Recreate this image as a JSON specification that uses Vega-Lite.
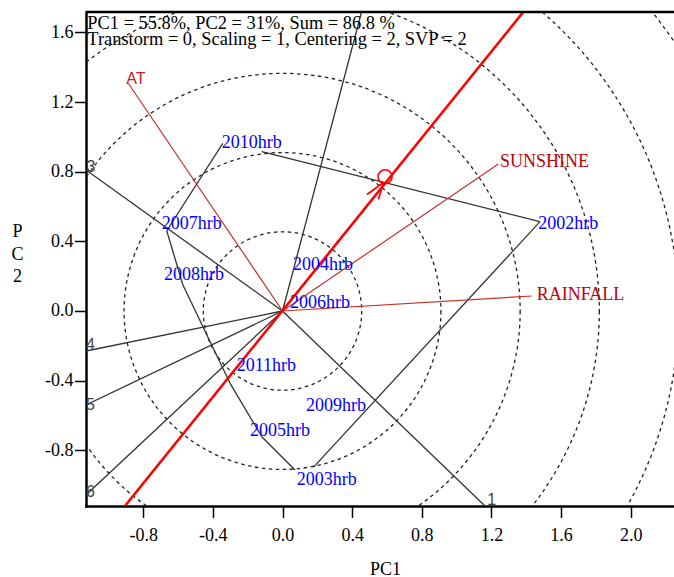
{
  "$schema": "https://vega.github.io/schema/vega-lite/v6.json",
  "width": 588,
  "height": 494,
  "autosize": {"type": "none"},
  "padding": {"left": 86, "top": 12, "right": 0, "bottom": 71},
  "background": "white",
  "config": {"view": {"stroke": null}, "font": "Liberation Serif"},
  "datasets": {
    "circles": [
      {"x": 0, "y": 0, "r": 0.455}, {"x": 0, "y": 0, "r": 0.91}, {"x": 0, "y": 0, "r": 1.365},
      {"x": 0, "y": 0, "r": 1.82}, {"x": 0, "y": 0, "r": 2.275}, {"x": 0, "y": 0, "r": 2.73}
    ],
    "rays": [
      {"ray": "1", "x": 0, "y": 0, "x2": 1.163, "y2": -1.1201},
      {"ray": "2", "x": 0, "y": 0, "x2": 0.454, "y2": 1.7174},
      {"ray": "3", "x": 0, "y": 0, "x2": -1.1287, "y2": 0.81},
      {"ray": "4", "x": 0, "y": 0, "x2": -1.1287, "y2": -0.23},
      {"ray": "5", "x": 0, "y": 0, "x2": -1.1287, "y2": -0.54},
      {"ray": "6", "x": 0, "y": 0, "x2": -1.1287, "y2": -1.057}
    ],
    "rayLabels": [
      {"label": "1", "x": 1.202, "y": -1.086},
      {"label": "3", "x": -1.1, "y": 0.825},
      {"label": "4", "x": -1.103, "y": -0.197},
      {"label": "5", "x": -1.103, "y": -0.54},
      {"label": "6", "x": -1.103, "y": -1.038}
    ],
    "polygon": [
      {"x": -0.665, "y": 0.461, "x2": -0.343, "y2": 0.963},
      {"x": -0.119, "y": 0.915, "x2": 1.479, "y2": 0.513},
      {"x": 1.479, "y": 0.513, "x2": 0.177, "y2": -0.898},
      {"x": 0.072, "y": -0.913, "x2": -0.119, "y2": -0.722},
      {"x": -0.119, "y": -0.722, "x2": -0.302, "y2": -0.414},
      {"x": -0.302, "y": -0.414, "x2": -0.572, "y2": 0.149},
      {"x": -0.572, "y": 0.149, "x2": -0.665, "y2": 0.461}
    ],
    "env": [
      {"name": "AT", "x": 0, "y": 0, "x2": -0.886, "y2": 1.308},
      {"name": "SUNSHINE", "x": 0, "y": 0, "x2": 1.24, "y2": 0.844},
      {"name": "RAINFALL", "x": 0, "y": 0, "x2": 1.431, "y2": 0.086}
    ],
    "envLabels": [
      {"name": "AT", "x": -0.897, "y": 1.333},
      {"name": "SUNSHINE", "x": 1.249, "y": 0.853},
      {"name": "RAINFALL", "x": 1.46, "y": 0.092}
    ],
    "axisLine": [
      {"x": -0.905, "y": -1.1201, "x2": 1.383, "y2": 1.7174}
    ],
    "arrow": [
      {"x": 0.58, "y": 0.738, "x2": 0.485, "y2": 0.669},
      {"x": 0.58, "y": 0.738, "x2": 0.551, "y2": 0.64}
    ],
    "marker": [{"x": 0.589, "y": 0.771}],
    "frameTop": [{"x": -1.1287, "y": 1.7174, "x2": 2.2487, "y2": 1.7174}],
    "info": [{"x": -1.121, "y": 1.618, "line1": "PC1 = 55.8%, PC2 = 31%, Sum = 86.8 %", "line2": "Transtorm = 0, Scaling = 1, Centering = 2, SVP = 2"}],
    "genotypes": [
      {"name": "2010hrb", "x": -0.349, "y": 0.963},
      {"name": "2007hrb", "x": -0.694, "y": 0.497},
      {"name": "2008hrb", "x": -0.681, "y": 0.208},
      {"name": "2004hrb", "x": 0.06, "y": 0.267},
      {"name": "2006hrb", "x": 0.043, "y": 0.044},
      {"name": "2002hrb", "x": 1.469, "y": 0.501},
      {"name": "2011hrb", "x": -0.263, "y": -0.318},
      {"name": "2009hrb", "x": 0.135, "y": -0.545},
      {"name": "2005hrb", "x": -0.187, "y": -0.689},
      {"name": "2003hrb", "x": 0.082, "y": -0.971}
    ]
  },
  "encoding": {
    "x": {
      "field": "x", "type": "quantitative",
      "scale": {"domain": [-1.1287, 2.2487], "nice": false, "zero": false},
      "axis": {
        "values": [-0.8, -0.4, 0, 0.4, 0.8, 1.2, 1.6, 2.0],
        "labelExpr": "datum.value < -0.001 ? '-' + format(-datum.value, '.1f') : format(abs(datum.value), '.1f')",
        "grid": false, "domain": true, "domainColor": "black", "domainWidth": 2.5, "domainCap": "square",
        "ticks": true, "tickColor": "black", "tickWidth": 1.5, "tickSize": 11.5,
        "labelPadding": 8.5, "labelFont": "Liberation Serif", "labelFontSize": 18, "labelColor": "black",
        "labelFlush": false, "labelOverlap": false,
        "title": "PC1", "titleFont": "Liberation Serif", "titleFontSize": 18, "titleFontWeight": "normal",
        "titleColor": "black", "titleX": 299, "titleY": 68, "titleBaseline": "alphabetic", "titleAlign": "center"
      }
    },
    "y": {
      "field": "y", "type": "quantitative",
      "scale": {"domain": [-1.1201, 1.7174], "nice": false, "zero": false},
      "axis": {
        "values": [-0.8, -0.4, 0, 0.4, 0.8, 1.2, 1.6],
        "labelExpr": "datum.value < -0.001 ? '-' + format(-datum.value, '.1f') : format(abs(datum.value), '.1f')",
        "grid": false, "domain": true, "domainColor": "black", "domainWidth": 2.5, "domainCap": "square",
        "ticks": true, "tickColor": "black", "tickWidth": 1.5, "tickSize": 11.5,
        "labelPadding": 1.5, "labelFont": "Liberation Serif", "labelFontSize": 18, "labelColor": "black",
        "labelFlush": false, "labelOverlap": false,
        "title": ["P", "C", "2"], "titleFont": "Liberation Serif", "titleFontSize": 18, "titleFontWeight": "normal",
        "titleColor": "black", "titleAngle": 0, "titleX": -69, "titleY": 210.7, "titleBaseline": "top",
        "titleAlign": "center", "titleLineHeight": 22.5
      }
    }
  },
  "layer": [
    {
      "data": {"name": "circles"},
      "mark": {"type": "point", "shape": "circle", "filled": false, "stroke": "#222", "strokeWidth": 1.3, "strokeDash": [3.5, 3.5], "opacity": 1, "clip": true},
      "encoding": {
        "size": {"field": "r", "type": "quantitative", "scale": {"type": "pow", "exponent": 2, "domain": [0, 1], "range": [0, 121243]}, "legend": null}
      }
    },
    {
      "data": {"name": "rays"},
      "mark": {"type": "rule", "color": "#333", "strokeWidth": 1.3, "clip": true},
      "encoding": {"x2": {"field": "x2"}, "y2": {"field": "y2"}}
    },
    {
      "data": {"name": "polygon"},
      "mark": {"type": "rule", "color": "#333", "strokeWidth": 1.3, "clip": true},
      "encoding": {"x2": {"field": "x2"}, "y2": {"field": "y2"}}
    },
    {
      "data": {"name": "env"},
      "mark": {"type": "rule", "color": "#c8302c", "strokeWidth": 1.2, "clip": true},
      "encoding": {"x2": {"field": "x2"}, "y2": {"field": "y2"}}
    },
    {
      "data": {"name": "axisLine"},
      "mark": {"type": "rule", "color": "#ff0000", "strokeWidth": 2.6, "clip": true},
      "encoding": {"x2": {"field": "x2"}, "y2": {"field": "y2"}}
    },
    {
      "data": {"name": "arrow"},
      "mark": {"type": "rule", "color": "#ff0000", "strokeWidth": 1.7, "clip": true},
      "encoding": {"x2": {"field": "x2"}, "y2": {"field": "y2"}}
    },
    {
      "data": {"name": "marker"},
      "mark": {"type": "point", "shape": "circle", "filled": false, "stroke": "#ff0000", "strokeWidth": 1.6, "size": 196, "opacity": 1, "clip": true}
    },
    {
      "data": {"name": "frameTop"},
      "mark": {"type": "rule", "color": "black", "strokeWidth": 2.5, "clip": false},
      "encoding": {"x2": {"field": "x2"}, "y2": {"field": "y2"}}
    },
    {
      "data": {"name": "info"},
      "mark": {"type": "text", "align": "left", "baseline": "alphabetic", "font": "Liberation Serif", "fontSize": 18.4, "color": "black"},
      "encoding": {"text": {"field": "line1"}}
    },
    {
      "data": {"name": "info"},
      "mark": {"type": "text", "align": "left", "baseline": "alphabetic", "font": "Liberation Serif", "fontSize": 18.4, "color": "black", "dy": 16},
      "encoding": {"text": {"field": "line2"}}
    },
    {
      "data": {"name": "genotypes"},
      "mark": {"type": "text", "align": "left", "baseline": "middle", "font": "Liberation Serif", "fontSize": 18, "color": "#0000ff"},
      "encoding": {"text": {"field": "name"}}
    },
    {
      "data": {"name": "envLabels"},
      "transform": [{"filter": "datum.name != 'AT'"}],
      "mark": {"type": "text", "align": "left", "baseline": "middle", "font": "Liberation Serif", "fontSize": 18, "color": "#c00000"},
      "encoding": {"text": {"field": "name"}}
    },
    {
      "data": {"name": "envLabels"},
      "transform": [{"filter": "datum.name == 'AT'"}],
      "mark": {"type": "text", "align": "left", "baseline": "middle", "font": "Liberation Sans", "fontSize": 16, "color": "#cc2020"},
      "encoding": {"text": {"field": "name"}}
    },
    {
      "data": {"name": "rayLabels"},
      "mark": {"type": "text", "align": "center", "baseline": "middle", "font": "Liberation Sans", "fontSize": 16, "color": "#444"},
      "encoding": {"text": {"field": "label"}}
    }
  ]
}
